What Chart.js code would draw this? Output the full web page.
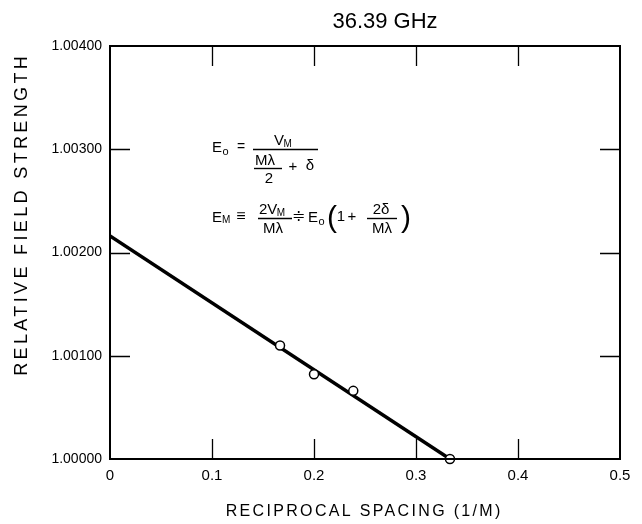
<!DOCTYPE html>
<html>
<head>
<meta charset="utf-8">
<script src="https://cdn.jsdelivr.net/npm/chart.js@4/dist/chart.umd.min.js"></script>
<style>
  html, body { margin: 0; padding: 0; background: #ffffff; }
  #wrap { width: 642px; height: 524px; position: relative; }
</style>
</head>
<body>
<div id="wrap"><canvas id="c" width="642" height="524"></canvas></div>
<script>
// ---- data ----
const chartTitle = "36.39 GHz";
const xAxisTitle = "RECIPROCAL SPACING (1/M)";
const yAxisTitle = "RELATIVE FIELD STRENGTH";
const xTicks = [0, 0.1, 0.2, 0.3, 0.4, 0.5];
const yTicks = [1.00000, 1.00100, 1.00200, 1.00300, 1.00400];
const measuredX = [0.1667, 0.2000, 0.2385, 0.3333];
const measuredY = [1.00110, 1.00082, 1.00066, 1.00000];
const fitX = [0, 0.3333];
const fitY = [1.00216, 1.00000];

const FONT = "'Liberation Sans', Arial, sans-serif";

const frame = {
  id: 'frame',
  afterDraw(chart) {
    const ctx = chart.ctx;
    const a = chart.chartArea;
    const xs = chart.scales.x, ys = chart.scales.y;
    ctx.save();
    ctx.strokeStyle = '#000';
    // inner ticks
    ctx.lineWidth = 1.3;
    ctx.beginPath();
    xTicks.slice(1, -1).forEach(v => {
      const px = Math.round(xs.getPixelForValue(v)) + 0.5;
      ctx.moveTo(px, a.top); ctx.lineTo(px, a.top + 20);
      ctx.moveTo(px, a.bottom); ctx.lineTo(px, a.bottom - 20);
    });
    yTicks.slice(1, -1).forEach(v => {
      const py = Math.round(ys.getPixelForValue(v)) + 0.5;
      ctx.moveTo(a.left, py); ctx.lineTo(a.left + 20, py);
      ctx.moveTo(a.right, py); ctx.lineTo(a.right - 20, py);
    });
    ctx.stroke();
    // frame
    ctx.lineWidth = 2;
    ctx.strokeRect(a.left, a.top, a.right - a.left, a.bottom - a.top);

    ctx.fillStyle = '#000';
    const spaced = (str, size, target) => {
      ctx.font = size + 'px ' + FONT;
      ctx.letterSpacing = '0px';
      const w = ctx.measureText(str).width;
      const ls = (target - w) / str.length;
      ctx.letterSpacing = ls.toFixed(2) + 'px';
      return ls;
    };
    // chart title
    ctx.font = '22px ' + FONT;
    ctx.textAlign = 'center';
    ctx.textBaseline = 'middle';
    ctx.fillText(chartTitle, 385, 22);
    // x axis title
    let ls = spaced(xAxisTitle, 16, 277);
    ctx.textAlign = 'center';
    ctx.fillText(xAxisTitle, 363 + ls / 2, 512);
    // y axis title
    ls = spaced(yAxisTitle, 18, 323);
    ctx.save();
    ctx.translate(22, 216);
    ctx.rotate(-Math.PI / 2);
    ctx.fillText(yAxisTitle, ls / 2, 0);
    ctx.restore();
    ctx.letterSpacing = '0px';

    // equations: run of text pieces drawn one after another
    const run = (pieces, x, y) => {
      let cx = x;
      ctx.textAlign = 'left';
      ctx.textBaseline = 'middle';
      pieces.forEach(p => {
        const [s, size, dy, gap] = p;
        ctx.font = size + 'px ' + FONT;
        cx += (gap || 0);
        ctx.fillText(s, cx, y + (dy || 0));
        cx += ctx.measureText(s).width;
      });
      return cx;
    };
    const ctr = (s, size, x, y) => {
      ctx.font = size + 'px ' + FONT;
      ctx.textAlign = 'center';
      ctx.textBaseline = 'middle';
      ctx.fillText(s, x, y);
    };
    const bar = (x1, x2, y) => {
      ctx.lineWidth = 1.4;
      ctx.beginPath(); ctx.moveTo(x1, y); ctx.lineTo(x2, y); ctx.stroke();
    };
    // E0 = V_M / (M lambda / 2 + delta)
    run([['E', 15], ['o', 11, 4, 0.5]], 212, 148);
    ctr('=', 14, 241, 147);
    run([['V', 15], ['M', 10, 3, -0.5]], 274, 141);
    bar(253, 318, 149.5);
    run([['M\u03BB', 15]], 255, 161);
    bar(254, 282, 168.5);
    ctr('2', 15, 269, 178.5);
    ctr('+', 15, 293, 167);
    ctr('\u03B4', 15, 310, 166);
    // E_M = 2V_M / M lambda  ≑  E0 (1 + 2 delta / M lambda)
    run([['E', 15], ['M', 10, 3, 0]], 212, 217.5);
    ctr('\u2261', 16, 241, 217);
    run([['2V', 15], ['M', 10, 3, -0.5]], 259, 210);
    bar(258, 292, 218.5);
    ctr('M\u03BB', 15, 273, 228.5);
    ctr('\u2251', 16, 298, 217);
    run([['E', 15], ['o', 11, 4, 0.5]], 308, 218);
    ctr('(', 30, 332, 219);
    ctr('1', 15, 341, 217);
    ctr('+', 15, 352, 217);
    ctr('2\u03B4', 15, 381, 210);
    bar(367, 397, 218.5);
    ctr('M\u03BB', 15, 382, 228.5);
    ctr(')', 30, 406, 219);
    ctx.restore();
  }
};

new Chart(document.getElementById('c'), {
  type: 'scatter',
  data: {
    datasets: [
      {
        type: 'line',
        label: 'fit',
        data: fitX.map((x, i) => ({ x, y: fitY[i] })),
        borderColor: '#000',
        borderWidth: 3.5,
        pointRadius: 0,
        fill: false,
        order: 2
      },
      {
        label: 'measured',
        data: measuredX.map((x, i) => ({ x, y: measuredY[i] })),
        pointStyle: 'circle',
        pointRadius: 4.5,
        pointBackgroundColor: '#fff',
        pointBorderColor: '#000',
        pointBorderWidth: 1.5,
        showLine: false,
        clip: false,
        order: 1
      }
    ]
  },
  options: {
    responsive: false,
    animation: false,
    events: [],
    layout: { padding: { top: 46, right: 22, left: 0, bottom: 0 } },
    plugins: {
      legend: { display: false },
      tooltip: { enabled: false },
      title: { display: false }
    },
    scales: {
      x: {
        type: 'linear',
        min: 0, max: 0.5,
        afterBuildTicks: s => { s.ticks = xTicks.map(v => ({ value: v })); },
        afterFit: s => { s.height = 65; },
        grid: { display: false, drawTicks: false },
        border: { display: false },
        ticks: {
          color: '#000',
          padding: 8,
          font: { family: FONT, size: 15 },
          callback: v => (v === 0 ? '0' : String(Math.round(v * 10) / 10))
        }
      },
      y: {
        type: 'linear',
        min: 1.0, max: 1.004,
        afterBuildTicks: s => { s.ticks = yTicks.map(v => ({ value: v })); },
        afterFit: s => { s.width = 110; },
        grid: { display: false, drawTicks: false },
        border: { display: false },
        ticks: {
          color: '#000',
          padding: 8,
          font: { family: FONT, size: 14 },
          callback: v => Number(v).toFixed(5)
        }
      }
    }
  },
  plugins: [frame]
});
</script>
</body>
</html>
